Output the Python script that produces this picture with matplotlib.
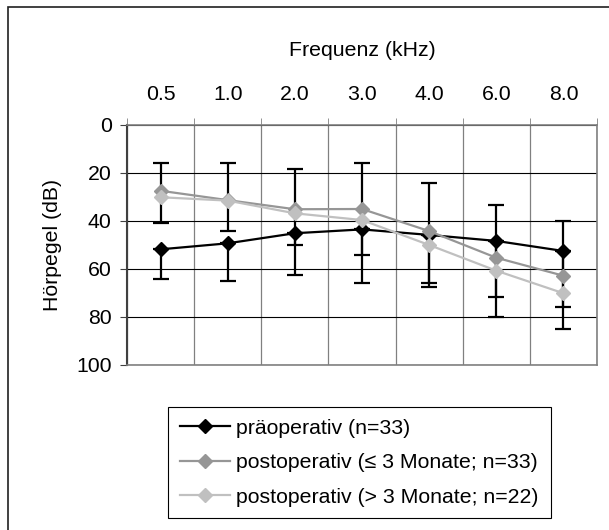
import numpy as np
import matplotlib
matplotlib.use("Agg")
import matplotlib.pyplot as plt
from matplotlib.patches import Rectangle

plt.rcParams['font.family'] = ['Liberation Sans', 'DejaVu Sans']

# Daten (Hörpegel in dB)
freq_labels = ['0.5', '1.0', '2.0', '3.0', '4.0', '6.0', '8.0']
prae = [51.8, 49.3, 45.1, 43.5, 45.8, 48.3, 52.5]
prae_err = [12.4, 15.7, 17.4, 22.5, 21.6, 23.5, 23.5]
post_kurz = [27.4, 31.3, 35.1, 35.0, 44.2, 55.3, 62.8]
post_kurz_err_oben = [11.4, 15.3, 16.6, 19.0, 20.2, 22.0, 22.7]
post_kurz_err_unten = [13.6, 12.9, 14.9, 19.2, 21.8, 24.7, 22.2]
post_lang = [30.1, 31.5, 36.8, 39.6, 50.0, 60.7, 70.1]

labels = ['präoperativ (n=33)',
          'postoperativ (≤ 3 Monate; n=33)',
          'postoperativ (> 3 Monate; n=22)']
colors = ['#000000', '#969696', '#c0c0c0']

fs = 15.3
W, H = 609, 530
fig = plt.figure(figsize=(W / 100, H / 100), dpi=100)
ax = fig.add_axes([127 / W, 1 - 365 / H, (597 - 127) / W, (365 - 125) / H])

x = np.arange(len(freq_labels))

# Fehlerbalken (schwarz)
ax.errorbar(x, prae, yerr=[np.zeros(len(x)), prae_err], fmt='none',
            ecolor='black', elinewidth=1.6, capsize=5.5, capthick=1.6, zorder=2)
ax.errorbar(x, post_kurz, yerr=[post_kurz_err_oben, post_kurz_err_unten], fmt='none',
            ecolor='black', elinewidth=1.6, capsize=5.5, capthick=1.6, zorder=2)

# Linien
for y, c, lab in zip([prae, post_kurz, post_lang], colors, labels):
    ax.plot(x, y, color=c, lw=1.6, marker='D', ms=7.5, mec=c, mfc=c, label=lab, zorder=3)

ax.set_xlim(-0.5, len(x) - 0.5)
ax.set_ylim(100, 0)
ax.set_yticks(np.arange(0, 101, 20))
ax.set_xticks(x)
ax.set_xticklabels(freq_labels)
ax.set_xticks(np.arange(-0.5, len(x)), minor=True)
ax.xaxis.tick_top()
ax.xaxis.set_label_position('top')
ax.tick_params(axis='x', which='major', length=0, pad=15, labelsize=fs)
ax.tick_params(axis='x', which='minor', length=5, color='#808080', top=True, bottom=False)
ax.tick_params(axis='y', length=5, color='#404040', labelsize=fs, pad=6)

ax.set_xlabel('Frequenz (kHz)', fontsize=fs, labelpad=21)
ax.set_ylabel('Hörpegel (dB)', fontsize=fs, labelpad=10)

ax.grid(axis='y', which='major', color='black', lw=0.8)
ax.grid(axis='x', which='minor', color='#808080', lw=0.9)
ax.set_axisbelow(True)

for s in ['top', 'right', 'bottom']:
    ax.spines[s].set_color('#808080')
    ax.spines[s].set_linewidth(1.2)
ax.spines['left'].set_color('#404040')
ax.spines['left'].set_linewidth(1.5)

leg = fig.legend(loc='upper center', bbox_to_anchor=(359.5 / W, 1 - 407 / H),
                 fontsize=fs, frameon=True, fancybox=False, framealpha=1,
                 edgecolor='black', handlelength=2.35, labelspacing=0.73,
                 borderpad=0.55, handletextpad=0.3, borderaxespad=0)
leg.get_frame().set_linewidth(0.8)

# äußerer Rahmen
fig.patches.append(Rectangle((8 / W, -0.1), 1.2, 1 - 7 / H + 0.1, transform=fig.transFigure,
                             fill=False, edgecolor='#202020', lw=1.2))

fig.savefig('out.png', dpi=100)
